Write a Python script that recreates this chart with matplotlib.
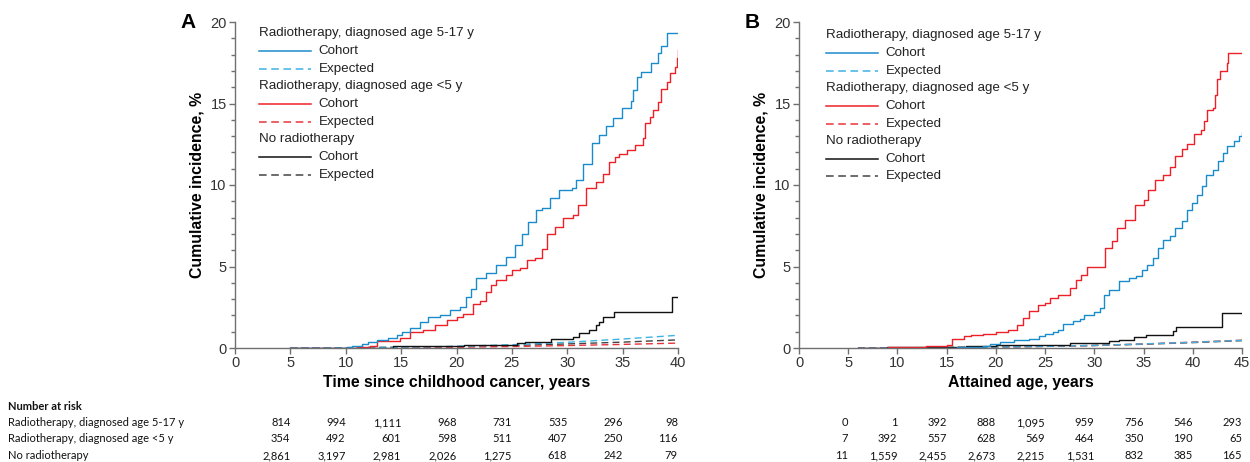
import matplotlib
matplotlib.use("Agg")
import matplotlib.pyplot as plt
from matplotlib.transforms import blended_transform_factory

plt.rcParams['font.family'] = ['Liberation Sans', 'DejaVu Sans']

# ---------------- Data: Panel A (time since childhood cancer) ----------------
a_blue_t = [5.0, 8.5, 10.1, 10.6, 11.5, 12.0, 12.8, 13.8, 14.6, 15.1, 15.8, 16.7, 17.4, 18.5,
            19.4, 20.3, 20.9, 21.3, 21.8, 22.7, 23.6, 24.5, 25.3, 25.9, 26.5, 27.2, 27.7,
            28.4, 29.3, 30.4, 30.8, 31.4, 32.2, 32.9, 33.5, 34.1, 34.9, 35.8, 35.95, 36.3,
            36.7, 37.6, 38.2, 38.5, 39.0, 40.0]
a_blue_y = [0.0, 0.03, 0.08, 0.14, 0.25, 0.37, 0.49, 0.62, 0.8, 1.0, 1.22, 1.6, 1.92, 2.0,
            2.33, 2.53, 3.15, 3.6, 4.27, 4.58, 5.09, 5.6, 6.3, 7.0, 7.75, 8.47, 8.57,
            9.18, 9.7, 9.8, 10.3, 11.3, 12.56, 13.07, 13.6, 14.1, 14.7, 15.15, 15.8, 16.6,
            16.95, 17.5, 18.08, 18.5, 19.3, 19.3]

a_red_t = [5.0, 9.0, 11.0, 12.2, 12.8, 14.9, 15.8, 17.0, 18.05, 19.1, 20.0, 20.6, 21.5, 22.1,
           22.7, 23.1, 23.6, 24.5, 25.0, 25.7, 26.4, 27.1, 27.7, 28.2, 28.9, 29.6, 30.5,
           31.0, 31.7, 32.6, 33.2, 33.8, 34.3, 34.7, 35.35, 36.1, 36.85, 37.0, 37.45, 37.75,
           38.2, 38.5, 39.0, 39.25, 39.7, 39.9, 40.0]
a_red_y = [0.0, 0.02, 0.05, 0.15, 0.45, 0.6, 1.0, 1.1, 1.4, 1.7, 1.9, 2.1, 2.7, 2.9,
           3.45, 3.87, 4.17, 4.5, 4.8, 4.9, 5.4, 5.5, 6.1, 7.0, 7.44, 8.0, 8.16,
           8.77, 9.8, 10.2, 10.7, 11.4, 11.7, 11.9, 12.15, 12.45, 12.86, 13.8, 14.2, 14.6,
           15.1, 15.9, 16.3, 16.85, 17.25, 17.8, 18.3]

a_black_t = [5.0, 9.0, 14.3, 17.7, 20.7, 25.5, 26.2, 28.5, 30.5, 31.1, 32.0, 32.6, 32.9, 33.2,
             34.2, 39.5, 40.0]
a_black_y = [0.0, 0.03, 0.1, 0.15, 0.2, 0.28, 0.39, 0.53, 0.7, 0.9, 1.1, 1.4, 1.6, 1.9,
             2.19, 3.1, 3.1]

a_exp_t = [5, 10, 15, 20, 25, 30, 35, 40]
a_exp_blue = [0.0, 0.02, 0.05, 0.1, 0.2, 0.35, 0.55, 0.78]
a_exp_red = [0.0, 0.01, 0.02, 0.05, 0.09, 0.15, 0.22, 0.3]
a_exp_black = [0.0, 0.02, 0.05, 0.09, 0.15, 0.25, 0.36, 0.5]

# ---------------- Data: Panel B (attained age) ----------------
b_red_t = [6.0, 9.0, 12.9, 15.0, 15.5, 16.8, 17.5, 18.7, 20.0, 21.2, 22.1, 22.8, 23.4, 24.3,
           25.0, 25.5, 26.3, 27.5, 28.1, 28.6, 29.3, 31.1, 31.8, 32.3, 33.1, 34.15, 35.0,
           35.5, 36.2, 37.0, 37.7, 38.2, 38.9, 39.4, 40.1, 40.8, 41.1, 41.45, 42.1, 42.3,
           42.5, 42.8, 43.5, 43.6, 45.0]
b_red_y = [0.0, 0.05, 0.1, 0.16, 0.57, 0.71, 0.82, 0.86, 0.96, 1.12, 1.43, 1.84, 2.25, 2.66,
           2.76, 3.07, 3.27, 3.68, 4.19, 4.5, 5.0, 6.13, 6.54, 7.36, 7.87, 8.79, 9.1,
           9.7, 10.3, 10.6, 11.1, 11.75, 12.2, 12.5, 13.1, 13.4, 13.9, 14.6, 14.7, 15.5,
           16.5, 17.0, 17.5, 18.1, 18.1]

b_blue_t = [6.0, 12.0, 16.0, 18.7, 19.4, 20.4, 21.8, 23.4, 24.4, 25.0, 25.8, 26.3, 26.8, 27.8,
            28.5, 29.0, 30.0, 30.6, 31.0, 31.5, 32.5, 33.5, 34.2, 34.8, 35.3, 36.0, 36.5,
            37.0, 37.7, 38.2, 38.9, 39.4, 39.9, 40.4, 40.9, 41.3, 42.1, 42.6, 43.1, 43.5,
            44.15, 44.7, 45.0]
b_blue_y = [0.0, 0.03, 0.05, 0.1, 0.25, 0.35, 0.47, 0.55, 0.71, 0.88, 0.96, 1.12, 1.47, 1.63,
            1.77, 2.04, 2.2, 2.45, 3.27, 3.58, 4.09, 4.3, 4.4, 4.8, 5.1, 5.52, 6.13,
            6.64, 6.85, 7.36, 7.77, 8.49, 8.9, 9.4, 9.91, 10.6, 10.9, 11.45, 11.96, 12.37,
            12.7, 13.0, 13.2]

b_black_t = [6.0, 8.9, 17.0, 20.0, 27.5, 31.5, 32.5, 34.0, 35.2, 38.0, 38.3, 43.0, 45.0]
b_black_y = [0.0, 0.05, 0.1, 0.16, 0.3, 0.41, 0.51, 0.65, 0.82, 1.02, 1.27, 2.15, 2.15]

b_exp_t = [6, 10, 15, 20, 25, 30, 35, 40, 45]
b_exp_blue = [0.0, 0.01, 0.03, 0.06, 0.1, 0.16, 0.25, 0.35, 0.47]
b_exp_red = [0.0, 0.01, 0.03, 0.06, 0.1, 0.16, 0.25, 0.36, 0.48]
b_exp_black = [0.0, 0.01, 0.03, 0.06, 0.1, 0.15, 0.23, 0.33, 0.45]

# ---------------- Number at risk ----------------
risk_groups = ["Radiotherapy, diagnosed age 5-17 y",
               "Radiotherapy, diagnosed age <5 y",
               "No radiotherapy"]
a_risk_times = [5, 10, 15, 20, 25, 30, 35, 40]
a_risk = [["814", "994", "1,111", "968", "731", "535", "296", "98"],
          ["354", "492", "601", "598", "511", "407", "250", "116"],
          ["2,861", "3,197", "2,981", "2,026", "1,275", "618", "242", "79"]]
b_risk_times = [5, 10, 15, 20, 25, 30, 35, 40, 45]
b_risk = [["0", "1", "392", "888", "1,095", "959", "756", "546", "293"],
          ["7", "392", "557", "628", "569", "464", "350", "190", "65"],
          ["11", "1,559", "2,455", "2,673", "2,215", "1,531", "832", "385", "165"]]

legend_headers = ["Radiotherapy, diagnosed age 5-17 y",
                  "Radiotherapy, diagnosed age <5 y",
                  "No radiotherapy"]

# ---------------- Styling ----------------
BLUE = "#1a8ccb"
BLUE_D = "#3fb2e3"
RED = "#ee2027"
RED_D = "#e8343c"
BLACK = "#111111"
BLACK_D = "#444444"
SPINE = "#707070"

W, H = 1250, 462
fig = plt.figure(figsize=(W / 100, H / 100), dpi=100)

def px_axes(l, r, t, b):
    return fig.add_axes([l / W, 1 - b / H, (r - l) / W, (b - t) / H])

axA = px_axes(235, 678, 22, 348)
axB = px_axes(799, 1242, 22, 348)

def style(ax, xmax, xlabel, letter):
    ax.set_xlim(0, xmax)
    ax.set_ylim(0, 20)
    ax.set_xticks(range(0, xmax + 1, 5))
    ax.set_yticks([0, 5, 10, 15, 20])
    ax.set_yticks(range(0, 21), minor=True)
    for s in ['top', 'right']:
        ax.spines[s].set_visible(False)
    for s in ['left', 'bottom']:
        ax.spines[s].set_color(SPINE)
        ax.spines[s].set_linewidth(1.0)
    ax.tick_params(axis='both', which='major', direction='out', length=4, width=1,
                   color=SPINE, labelsize=10.5, labelcolor='#333333', pad=2)
    ax.tick_params(axis='y', which='minor', direction='out', length=3, width=1, color=SPINE)
    ax.tick_params(axis='x', which='minor', length=0)
    ax.set_xlabel(xlabel, fontsize=11.4, fontweight='bold', labelpad=3)
    ax.set_ylabel("Cumulative incidence, %", fontsize=11.4, fontweight='bold', labelpad=4)
    ax.text(-0.105, 1.0, letter, transform=ax.transAxes, fontsize=15, fontweight='bold',
            ha='center', va='center')

def draw_legend(ax, x0, y0):
    dy = 0.0545
    items = [(legend_headers[0], BLUE, BLUE_D),
             (legend_headers[1], RED, RED_D),
             (legend_headers[2], BLACK, BLACK_D)]
    y = y0
    for header, c, cd in items:
        ax.text(x0, y, header, transform=ax.transAxes, fontsize=9.6, color='#222222',
                ha='left', va='center')
        y -= dy
        ax.plot([x0, x0 + 0.118], [y, y], transform=ax.transAxes, color=c, lw=1.1,
                clip_on=False)
        ax.text(x0 + 0.135, y, "Cohort", transform=ax.transAxes, fontsize=9.6,
                color='#222222', ha='left', va='center')
        y -= dy
        ax.plot([x0, x0 + 0.118], [y, y], transform=ax.transAxes, color=cd, lw=1.1,
                ls=(0, (5, 3)), clip_on=False)
        ax.text(x0 + 0.135, y, "Expected", transform=ax.transAxes, fontsize=9.6,
                color='#222222', ha='left', va='center')
        y -= dy * 0.98

style(axA, 40, "Time since childhood cancer, years", "A")
style(axB, 45, "Attained age, years", "B")

dash = (0, (5, 3))
# Panel A
axA.plot(a_exp_t, a_exp_black, color=BLACK_D, lw=1.0, ls=dash)
axA.plot(a_exp_t, a_exp_red, color=RED_D, lw=1.0, ls=dash)
axA.plot(a_exp_t, a_exp_blue, color=BLUE_D, lw=1.0, ls=dash)
axA.step(a_black_t, a_black_y, where='post', color=BLACK, lw=1.0)
axA.step(a_red_t, a_red_y, where='post', color=RED, lw=1.0)
axA.step(a_blue_t, a_blue_y, where='post', color=BLUE, lw=1.0)
draw_legend(axA, 0.054, 0.966)

# Panel B
axB.plot(b_exp_t, b_exp_black, color=BLACK_D, lw=1.0, ls=dash)
axB.plot(b_exp_t, b_exp_red, color=RED_D, lw=1.0, ls=dash)
axB.plot(b_exp_t, b_exp_blue, color=BLUE_D, lw=1.0, ls=dash)
axB.step(b_black_t, b_black_y, where='post', color=BLACK, lw=1.0)
axB.step(b_blue_t, b_blue_y, where='post', color=BLUE, lw=1.0)
axB.step(b_red_t, b_red_y, where='post', color=RED, lw=1.0)
draw_legend(axB, 0.061, 0.96)

# Number at risk table
TFONT = ['Lato', 'DejaVu Sans']
TSIZE = 8
row_y = [422.5, 439, 455.5]
fig.text(8 / W, 1 - 407 / H, "Number at risk", fontsize=TSIZE, fontweight='bold',
         family=TFONT, ha='left', va='center', color='#111111')
for i, g in enumerate(risk_groups):
    fig.text(8 / W, 1 - row_y[i] / H, g, fontsize=TSIZE, family=TFONT, ha='left',
             va='center', color='#111111')

for ax, times, table in [(axA, a_risk_times, a_risk), (axB, b_risk_times, b_risk)]:
    tr = blended_transform_factory(ax.transData, fig.transFigure)
    for i, row in enumerate(table):
        for t, v in zip(times, row):
            ax.text(t, 1 - row_y[i] / H, v, transform=tr, fontsize=TSIZE, family=TFONT,
                    ha='right', va='center', color='#111111', clip_on=False)

fig.savefig("out.png", dpi=100)
